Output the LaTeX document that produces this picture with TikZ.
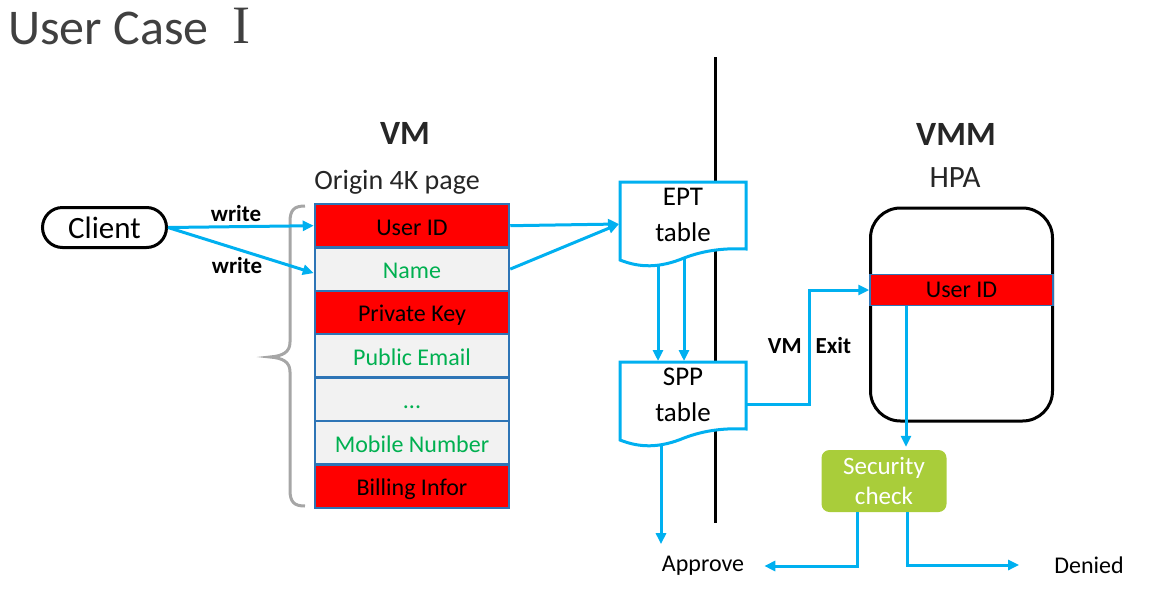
\documentclass[tikz,border=0pt]{standalone}
\usepackage{fontspec}
\setmainfont{Carlito}
\newfontfamily\serifI{Liberation Serif}
\usetikzlibrary{arrows.meta,calc}
\definecolor{cyanline}{HTML}{00B0F0}
\definecolor{rowblue}{HTML}{2E75B6}
\definecolor{rowgray}{HTML}{F2F2F2}
\definecolor{txtgreen}{HTML}{00B050}
\definecolor{secgreen}{RGB}{169,205,58}
\definecolor{dark}{HTML}{262626}
\definecolor{titlegray}{HTML}{404040}
\definecolor{bracegray}{HTML}{A6A6A6}
\begin{document}
\begin{tikzpicture}[x=1pt,y=-1pt,
  arr/.style={draw=cyanline,line width=3pt,-{Triangle[length=11pt,width=10pt]}},
  row/.style={draw=rowblue,line width=2.5pt,minimum width=194pt,minimum height=43.4pt,inner sep=0pt,text height=20pt,text depth=1.4pt,font=\fontsize{24}{28}\selectfont},
  redrow/.style={row,fill=red,text=black},
  grayrow/.style={row,fill=rowgray,text=txtgreen},
  lbl/.style={inner sep=0pt,font=\fontsize{24}{28}\selectfont},
  head/.style={inner sep=0pt,text=dark,font=\bfseries\fontsize{34}{38}\selectfont},
  sub/.style={inner sep=0pt,text=dark},
  wlbl/.style={inner sep=0pt,font=\bfseries\fontsize{23}{26}\selectfont},
  doc/.style={draw=cyanline,line width=3pt,fill=white,line join=miter}
]
\useasboundingbox (0,0) rectangle (1151,595);

% title
\node[inner sep=0pt,text=titlegray,font=\fontsize{50}{58}\selectfont,anchor=base west] (title) at (8,44) {User Case};
\node[inner sep=0pt,text=titlegray,font=\serifI\fontsize{54}{60}\selectfont,anchor=base] (num) at (241,43) {I};

% separator line
\coordinate (sepTop) at (715,57);
\coordinate (sepBot) at (715,523);
\draw[line width=3pt] (sepTop) -- (sepBot);

% headings
\node[head] (vm) at (405,133) {VM};
\node[sub,font=\fontsize{28}{32}\selectfont] (origin) at (397,182) {Origin 4K page};
\node[head] (vmmh) at (956,134) {VMM};
\node[sub,font=\fontsize{31}{34}\selectfont] (hpa) at (955,178) {HPA};

% client
\node[draw=black,line width=3pt,rounded corners=20pt,minimum width=124pt,minimum height=40pt,inner sep=0pt,font=\fontsize{31}{34}\selectfont] (client) at (104.5,227.5) {Client};

% memory page rows
\node[redrow]  (uid)    at (412,225.7) {User ID};
\node[grayrow] (name)   at (412,269.1) {Name};
\node[redrow]  (pkey)   at (412,312.5) {Private Key};
\node[grayrow] (email)  at (412,355.9) {Public Email};
\node[grayrow] (dots)   at (412,399.3) {...};
\node[grayrow] (mobile) at (412,442.7) {Mobile Number};
\node[redrow]  (bill)   at (412,486.1) {Billing Infor};

% brace
\draw[bracegray,line width=3pt] (305,206) .. controls (294,206) and (290,210) .. (290,222) -- (290,342)
  .. controls (290,352) and (283,356) .. (270,357) .. controls (283,358) and (290,362) .. (290,372)
  -- (290,490) .. controls (290,502) and (294,506) .. (305,506);

% write arrows
\node[wlbl] (w1) at (236,214) {write};
\node[wlbl] (w2) at (237,266) {write};
\draw[arr] (client.east) -- (uid.west);
\draw[arr] (client.east) -- ([yshift=-4pt]name.west);

% EPT table
\draw[doc] (620,182) -- (746,182) -- (746,249) .. controls (725,248) and (705,250) .. (684,258)
  .. controls (660,268) and (640,268) .. (620,260) -- cycle;
\node[sub,text=black,align=center,font=\fontsize{27}{36}\selectfont] (ept) at (683,215) {EPT\\table};
% SPP table
\draw[doc] (620,362) -- (746,362) -- (746,429) .. controls (725,428) and (705,430) .. (684,438)
  .. controls (660,448) and (640,448) .. (620,440) -- cycle;
\node[sub,text=black,align=center,font=\fontsize{27}{36}\selectfont] (spp) at (683,395) {SPP\\table};

\coordinate (eptin) at (619,224);
\draw[arr] (uid.east) -- (eptin);
\draw[arr] (name.east) -- (eptin);

\coordinate (e1) at (658,266);
\coordinate (e2) at (684,258);
\coordinate (sppTop) at (684,361);
\draw[arr] (e1) -- (e1 |- sppTop);
\draw[arr] (e2) -- (sppTop);

% VMM box
\node[draw=black,line width=3pt,rounded corners=30pt,minimum width=182pt,minimum height=213pt,inner sep=0pt] (vmm) at (961.5,314.5) {};
\node[draw=rowblue,line width=1.5pt,fill=red,minimum width=183pt,minimum height=31pt,inner sep=0pt,font=\fontsize{24}{26}\selectfont] (vuid) at (961.5,290) {User ID};

% VM exit
\coordinate (sppE) at (746,404);
\coordinate (exitc) at (809,404);
\draw[arr] (sppE) -- (exitc) |- (vuid.west);
\node[wlbl] (vmexit) at (809.5,346) {VM\hspace{14pt}Exit};

% security check
\node[fill=secgreen,rounded corners=8pt,minimum width=125pt,minimum height=62pt,inner sep=0pt,text=white,align=center,font=\fontsize{25}{30}\selectfont] (sec) at (884,481) {Security\\check};
\coordinate (v1) at (906,306);
\draw[arr,shorten >=3pt] (v1) -- (v1 |- sec.north);

% outcomes
\node[lbl] (appr) at (703,566) {Approve};
\node[lbl] (den) at (1089,565) {Denied};
\coordinate (s1) at (857,512);
\coordinate (s2) at (907,512);
\draw[arr] (s1) |- ([xshift=20pt]appr.east);
\draw[arr] (s2) |- ([xshift=-35pt]den.west);
\coordinate (sppB) at (661,446);
\draw[arr,shorten >=12pt] (sppB) -- (sppB |- appr.north);
\end{tikzpicture}
\end{document}
